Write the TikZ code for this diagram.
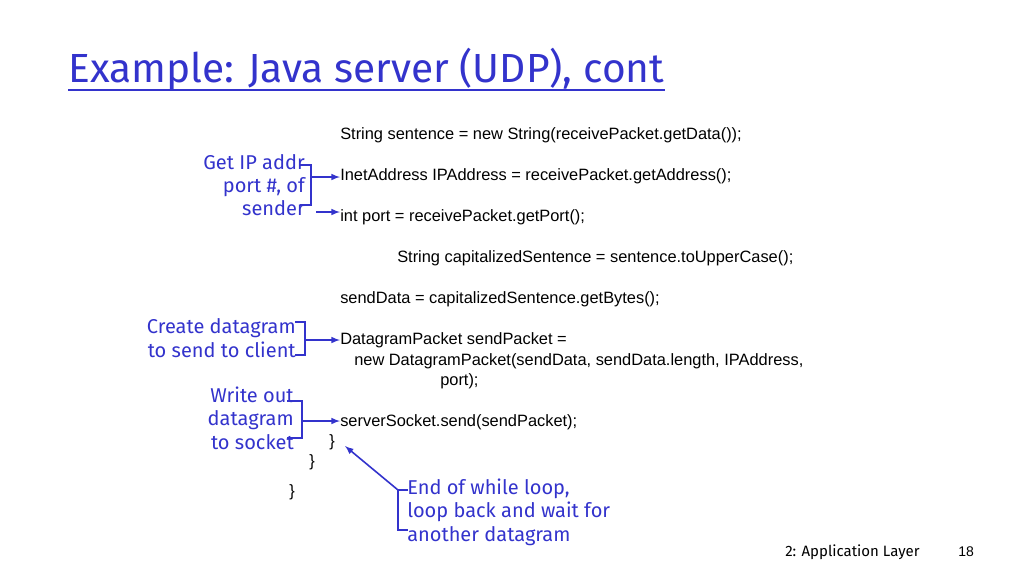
\documentclass[tikz,border=0pt]{standalone}
\usepackage{fontspec}
\setmainfont{Liberation Sans}
\newfontfamily\notefont{Fira Sans}
\usetikzlibrary{positioning}
\definecolor{noteblue}{RGB}{51,51,204}
\tikzset{
  code/.style={anchor=base west,inner sep=0pt,font=\fontsize{12.3}{13}\selectfont},
  note/.style={anchor=east,inner sep=0pt,align=right,text=noteblue,font=\notefont\fontsize{15}{17.5}\selectfont},
  brk/.style={draw=noteblue,line width=1.2pt},
  pointer/.style={draw=noteblue,line width=1.2pt,-latex}
}
\begin{document}
\begin{tikzpicture}[x=0.75pt,y=-0.75pt]
  \useasboundingbox (0,0) rectangle (1024,576);

  % title
  \node (title) [anchor=base west,inner sep=0pt,text=noteblue,font=\notefont\fontsize{30.5}{32}\selectfont] at (68,82) {Example: Java server (UDP), cont};
  \draw [noteblue,line width=1.5pt] (68,90) -- (665,90);

  % code lines
  \node (l1) [code] at (340,139) {String sentence = new String(receivePacket.getData());};
  \node (l2) [code] at (340,180) {InetAddress IPAddress = receivePacket.getAddress();};
  \node (l3) [code] at (340,221) {int port = receivePacket.getPort();};
  \node (l4) [code] at (397,262) {String capitalizedSentence = sentence.toUpperCase();};
  \node (l5) [code] at (340,303) {sendData = capitalizedSentence.getBytes();};
  \node (l6) [code] at (340,344) {DatagramPacket sendPacket =};
  \node (l7) [code] at (354,365) {new DatagramPacket(sendData, sendData.length, IPAddress,};
  \node (l8) [code] at (440,385) {port);};
  \node (l9) [code] at (340,426) {serverSocket.send(sendPacket);};
  \node (b1) [code] at (329,446) {\}};
  \node (b2) [code] at (309,466) {\}};
  \node (b3) [code] at (289,496) {\}};

  % notes
  \node (n1) [note] at (305,185) {Get IP addr\\port \#, of\\sender};
  \draw [brk] (300,165) -- (311,165) -- (311,205) -- (300,205);
  \coordinate (n1m) at (311,177);
  \draw [pointer] (n1m) -- (l2.west |- n1m);
  \coordinate (n1b) at (316,212);
  \draw [pointer] (n1b) -- (l3.west |- n1b);

  \node (n2) [note] at (296,338) {Create datagram\\to send to client};
  \draw [brk] (295,322) -- (305,322) -- (305,355) -- (295,355);
  \coordinate (n2m) at (305,340);
  \draw [pointer] (n2m) -- (l6.west |- n2m);

  \node (n3) [note] at (294,418) {Write out\\datagram\\to socket};
  \draw [brk] (287,401) -- (302,401) -- (302,438) -- (287,438);
  \coordinate (n3m) at (302,421);
  \draw [pointer] (n3m) -- (l9.west |- n3m);

  \node (n4) [note,anchor=west,align=left] at (407,512) {End of while loop,\\loop back and wait for\\another datagram};
  \draw [brk] (408,490) -- (398,490) -- (398,530) -- (408,530);
  \coordinate (n4t) at (398,490);
  \draw [pointer] (n4t) -- (345,446);

  % footer
  \node (foot) [anchor=base west,inner sep=0pt,font=\notefont\fontsize{11.25}{12}\selectfont] at (785,556) {2: Application Layer};
  \node (page) [anchor=base west,inner sep=0pt,font=\rmfamily\fontsize{10.5}{12}\selectfont] at (958,556) {18};
\end{tikzpicture}
\end{document}
